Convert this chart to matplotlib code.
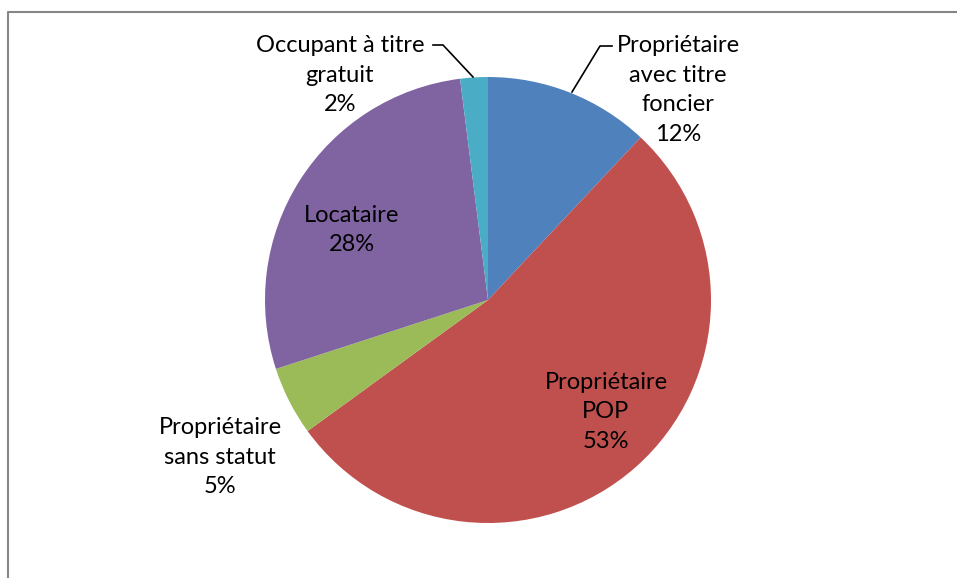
import matplotlib
matplotlib.use("Agg")
import matplotlib.pyplot as plt
from matplotlib.lines import Line2D

# Data
categories = ["Propriétaire\navec titre\nfoncier", "Propriétaire\nPOP", "Propriétaire\nsans statut",
              "Locataire", "Occupant à titre\ngratuit"]
shares = [12, 53, 5, 28, 2]
colors = ["#4F81BD", "#C0504D", "#9BBB59", "#8064A2", "#4BACC6"]

# label centres (pixels from top-left) and leader lines
label_pos = [(678, 90), (606, 412), (220, 457), (352, 230), (340, 75)]
leaders = {0: [(612, 46), (600, 46), (572, 92)],
           4: [(433, 45), (443, 45), (473, 77)]}

W, H = 957, 578
fig = plt.figure(figsize=(W / 100, H / 100), dpi=100)
ax = fig.add_axes([0, 0, 1, 1])
ax.set_xlim(0, W)
ax.set_ylim(0, H)
ax.set_aspect("equal")
ax.axis("off")

ax.pie(shares, colors=colors, startangle=90, counterclock=False,
       center=(488, H - 300), radius=223,
       wedgeprops=dict(linewidth=0))
ax.set_xlim(0, W)
ax.set_ylim(0, H)

plt.rcParams['font.family'] = ['Lato', 'DejaVu Sans']
for i, (lab, val) in enumerate(zip(categories, shares)):
    x, y = label_pos[i]
    ax.text(x, H - y, f"{lab}\n{val}%", ha="center", va="center",
            fontsize=17, linespacing=1.5, color="black")

for pts in leaders.values():
    ax.add_line(Line2D([p[0] for p in pts], [H - p[1] for p in pts],
                       color="black", linewidth=1.2))

# chart frame (only left and top edges visible)
ax.add_line(Line2D([8, 8, W], [0, H - 12, H - 12], color="#868686", linewidth=1.5))

fig.savefig("out.png", dpi=100)
